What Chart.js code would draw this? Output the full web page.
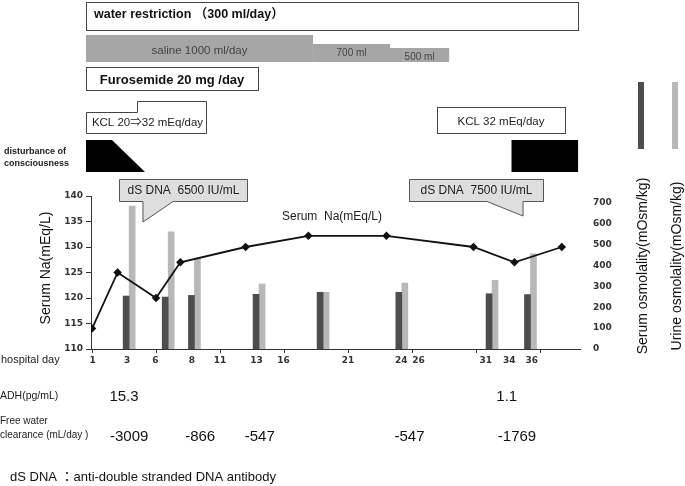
<!DOCTYPE html>
<html>
<head>
<meta charset="utf-8">
<script src="https://cdn.jsdelivr.net/npm/chart.js@4"></script>
<style>
  html, body { margin: 0; padding: 0; background: #fff; }
  canvas { display: block; }
</style>
</head>
<body>
<canvas id="c" width="685" height="486"></canvas>
<script>
// ---------------- data ----------------
const naDays   = [1, 3, 6, 7.9, 13, 17.9, 24, 30.8, 34, 37.7];
const serumNa  = [114, 125, 120, 127, 130, 132.2, 132.2, 130, 127, 130];

const osmDays   = [3.9, 6.95, 9, 14.05, 19.05, 25.2, 32.25, 35.25];
const serumOsm  = [254, 249, 257, 262, 272, 272, 265, 261];
const urineOsm  = [685, 562, 435, 312, 272, 316, 329, 457];

const dayTickLabels = ['1', '3', '6', '8', '11', '13', '16', '21', '24', '26', '31', '34', '36'];
const dayTickAt     = [1.05, 3.75, 5.95, 8.8, 11, 13.85, 15.95, 21, 25.15, 26.5, 31.75, 33.6, 35.35];
const axisTickDays  = [1, 6, 11, 16, 21, 26, 31, 36];

const adhLabels = ['15.3', '1.1'];
const adhDays   = [3.5, 33.4];
const fwcLabels = ['-3009', '-866', '-547', '-547', '-1769'];
const fwcDays   = [3.9, 9.45, 14.1, 25.8, 34.2];

const waterRestriction = ['water restriction （300 ml/day）', 0.53, 38.97];
const salineLabels = ['saline 1000 ml/day', '700 ml', '500 ml'];
const salineFrom   = [0.53, 18.27, 24.28];
const salineTo     = [18.27, 24.28, 28.9];
const furosemide   = ['Furosemide 20 mg /day', 0.53, 13.97];
const kcl1         = ['KCL 20⇒32 mEq/day', 0.53, 4.52, 9.9];
const kcl2         = ['KCL 32 mEq/day', 27.95, 37.95];
const consciousness1 = [0.53, 2.56, 5.14];
const consciousness2 = [33.77, 38.97];
const dsDnaLabels = ['dS DNA  6500 IU/mL', 'dS DNA  7500 IU/mL'];
const dsDnaBox    = [[3.1, 13.1], [25.77, 36.23]];
const dsDnaTail   = [[4.98, 7.33, 4.98], [31.86, 34.67, 34.67]];

// ---------------- drawing ----------------
const SANS = '"Liberation Sans", Arial, "Noto Sans CJK JP", sans-serif';
const TICKF = '"DejaVu Sans", sans-serif';

const annot = {
  id: 'annot',
  afterDraw(chart) {
    const { ctx, chartArea: ca, scales } = chart;
    const X = d => scales.x.getPixelForValue(d);
    ctx.save();
    ctx.textBaseline = 'middle';

    // x-axis tick marks
    ctx.strokeStyle = '#333'; ctx.lineWidth = 1;
    axisTickDays.forEach(d => {
      const px = Math.round(X(d)) + 0.5;
      ctx.beginPath(); ctx.moveTo(px, ca.bottom); ctx.lineTo(px, ca.bottom + 4); ctx.stroke();
    });

    // water restriction
    ctx.strokeStyle = '#444'; ctx.lineWidth = 1;
    let x0 = X(waterRestriction[1]), x1 = X(waterRestriction[2]);
    ctx.strokeRect(Math.round(x0) + 0.5, 2.5, Math.round(x1 - x0), 28);
    ctx.fillStyle = '#111'; ctx.font = 'bold 12.5px ' + SANS; ctx.textAlign = 'left';
    ctx.fillText(waterRestriction[0], x0 + 8, 15);

    // saline steps
    const tops = [35, 44, 48], ty = [51, 53, 57], fs = [11.5, 10, 10];
    ctx.fillStyle = '#a6a6a6';
    salineFrom.forEach((f, i) => {
      const a = X(f), b = X(salineTo[i]);
      ctx.fillRect(a, tops[i], b - a, 62 - tops[i]);
    });
    ctx.fillStyle = '#444'; ctx.textAlign = 'center';
    salineLabels.forEach((t, i) => {
      ctx.font = fs[i] + 'px ' + SANS;
      ctx.fillText(t, (X(salineFrom[i]) + X(salineTo[i])) / 2, ty[i]);
    });

    // furosemide
    x0 = X(furosemide[1]); x1 = X(furosemide[2]);
    ctx.strokeStyle = '#444';
    ctx.strokeRect(Math.round(x0) + 0.5, 67.5, Math.round(x1 - x0), 23);
    ctx.fillStyle = '#111'; ctx.font = 'bold 13px ' + SANS;
    ctx.fillText(furosemide[0], (x0 + x1) / 2, 80);

    // KCL 1 (stepped box)
    x0 = Math.round(X(kcl1[1])) + 0.5; const xs = Math.round(X(kcl1[2])) + 0.5; x1 = Math.round(X(kcl1[3])) + 0.5;
    ctx.beginPath();
    ctx.moveTo(x0, 133.5); ctx.lineTo(x0, 112.5); ctx.lineTo(xs, 112.5); ctx.lineTo(xs, 101.5);
    ctx.lineTo(x1, 101.5); ctx.lineTo(x1, 133.5); ctx.closePath(); ctx.stroke();
    ctx.fillStyle = '#222'; ctx.font = '11.5px ' + SANS;
    ctx.fillText(kcl1[0], (x0 + x1) / 2 + 1, 122.5);

    // KCL 2
    x0 = X(kcl2[1]); x1 = X(kcl2[2]);
    ctx.strokeRect(Math.round(x0) + 0.5, 107.5, Math.round(x1 - x0), 26);
    ctx.fillText(kcl2[0], (x0 + x1) / 2, 121.5);

    // disturbance of consciousness
    ctx.fillStyle = '#000';
    ctx.beginPath();
    ctx.moveTo(X(consciousness1[0]), 140); ctx.lineTo(X(consciousness1[1]), 140);
    ctx.lineTo(X(consciousness1[2]), 172); ctx.lineTo(X(consciousness1[0]), 172); ctx.closePath(); ctx.fill();
    ctx.fillRect(X(consciousness2[0]), 140, X(consciousness2[1]) - X(consciousness2[0]), 32);
    ctx.fillStyle = '#222'; ctx.font = 'bold 9px ' + SANS; ctx.textAlign = 'left';
    ctx.fillText('disturbance of', 4, 152);
    ctx.fillText('consciousness', 4, 164);

    // dS DNA callouts
    dsDnaLabels.forEach((t, i) => {
      const a = Math.round(X(dsDnaBox[i][0])) + 0.5, b = Math.round(X(dsDnaBox[i][1])) + 0.5;
      const top = 179.5, bot = 201.5;
      const t0 = X(dsDnaTail[i][0]), t1 = X(dsDnaTail[i][1]), tip = X(dsDnaTail[i][2]);
      const tipY = i === 0 ? 222 : 216;
      ctx.beginPath();
      ctx.moveTo(a, top); ctx.lineTo(b, top); ctx.lineTo(b, bot);
      ctx.lineTo(t1, bot); ctx.lineTo(tip, tipY); ctx.lineTo(t0, bot);
      ctx.lineTo(a, bot); ctx.closePath();
      ctx.fillStyle = '#dedede'; ctx.fill();
      ctx.strokeStyle = '#555'; ctx.lineWidth = 1; ctx.stroke();
      ctx.fillStyle = '#222'; ctx.font = '12px ' + SANS; ctx.textAlign = 'center';
      ctx.fillText(t, (a + b) / 2, 191);
    });

    // in-plot label
    ctx.fillStyle = '#222'; ctx.font = '12px ' + SANS; ctx.textAlign = 'left';
    ctx.fillText('Serum  Na(mEq/L)', 282, 217);

    // left axis title
    ctx.save();
    ctx.translate(46, 268); ctx.rotate(-Math.PI / 2);
    ctx.textAlign = 'center'; ctx.font = '14px ' + SANS; ctx.fillStyle = '#111';
    ctx.fillText('Serum Na(mEq/L)', 0, 0);
    ctx.restore();

    // right titles + legend bars
    const rt = [['Serum osmolality(mOsm/kg)', 643, '#4d4d4d', 638], ['Urine osmolality(mOsm/kg)', 677, '#b8b8b8', 672]];
    rt.forEach(r => {
      ctx.fillStyle = r[2];
      ctx.fillRect(r[3], 82, 6, 67);
      ctx.save();
      ctx.translate(r[1], 266); ctx.rotate(-Math.PI / 2);
      ctx.textAlign = 'center'; ctx.font = '14px ' + SANS; ctx.fillStyle = '#111';
      ctx.fillText(r[0], 0, 0);
      ctx.restore();
    });

    // bottom rows
    ctx.fillStyle = '#222'; ctx.textAlign = 'left';
    ctx.font = '11px ' + SANS;
    ctx.fillText('hospital day', 1, 360);
    ctx.font = '10.5px ' + SANS;
    ctx.fillText('ADH(pg/mL)', 0, 396);
    ctx.font = '10px ' + SANS;
    ctx.fillText('Free water', 0, 421);
    ctx.fillText('clearance (mL/day )', 0, 435);
    ctx.font = '15px ' + SANS; ctx.textAlign = 'center'; ctx.fillStyle = '#111';
    adhLabels.forEach((t, i) => ctx.fillText(t, X(adhDays[i]), 397));
    fwcLabels.forEach((t, i) => ctx.fillText(t, X(fwcDays[i]), 437));

    ctx.font = '13px ' + SANS; ctx.textAlign = 'left'; ctx.fillStyle = '#111';
    ctx.fillText('dS DNA ：anti-double stranded DNA antibody', 10, 477);
    ctx.restore();
  }
};

const tickFont = { family: TICKF, weight: 'bold', size: 9 };

new Chart(document.getElementById('c'), {
  type: 'bar',
  data: {
    datasets: [
      {
        type: 'line', label: 'Serum Na',
        data: naDays.map((d, i) => ({ x: d, y: serumNa[i] })),
        yAxisID: 'y', borderColor: '#111', borderWidth: 1.8,
        pointStyle: 'rectRot', pointRadius: 3, pointBackgroundColor: '#111', pointBorderColor: '#111',
        tension: 0, order: 0
      },
      {
        type: 'bar', label: 'Serum osmolality',
        data: osmDays.map((d, i) => ({ x: d, y: serumOsm[i] })),
        yAxisID: 'y2', backgroundColor: '#4d4d4d', barThickness: 6, order: 1
      },
      {
        type: 'bar', label: 'Urine osmolality',
        data: osmDays.map((d, i) => ({ x: d, y: urineOsm[i] })),
        yAxisID: 'y2', backgroundColor: '#b8b8b8', barThickness: 6, order: 1
      }
    ]
  },
  options: {
    responsive: false, animation: false,
    layout: { padding: { top: 196, left: 0, right: 0, bottom: 0 } },
    plugins: { legend: { display: false }, tooltip: { enabled: false } },
    scales: {
      x: {
        type: 'linear', min: 0.92, max: 39.12, offset: false,
        grid: { display: false, drawTicks: false, offset: false },
        border: { display: true, color: '#333', width: 1 },
        ticks: {
          autoSkip: false, maxRotation: 0, minRotation: 0, padding: 6,
          font: tickFont, color: '#333',
          callback: (v, i) => dayTickLabels[i]
        },
        afterBuildTicks: a => { a.ticks = dayTickAt.map(v => ({ value: v })); },
        afterFit: s => { s.height = 137; }
      },
      y: {
        position: 'left', min: 110, max: 140,
        ticks: { stepSize: 5, padding: 3, font: tickFont, color: '#333' },
        grid: { drawOnChartArea: false, tickLength: 5, color: '#333' },
        border: { color: '#333', width: 1 },
        afterFit: s => { s.width = 91; }
      },
      y2: {
        position: 'right', min: 0, max: 733.6,
        ticks: { stepSize: 100, includeBounds: false, padding: 13, font: tickFont, color: '#333' },
        grid: { display: false, drawTicks: false },
        border: { display: false },
        afterFit: s => { s.width = 105; }
      }
    }
  },
  plugins: [annot]
});
</script>
</body>
</html>
